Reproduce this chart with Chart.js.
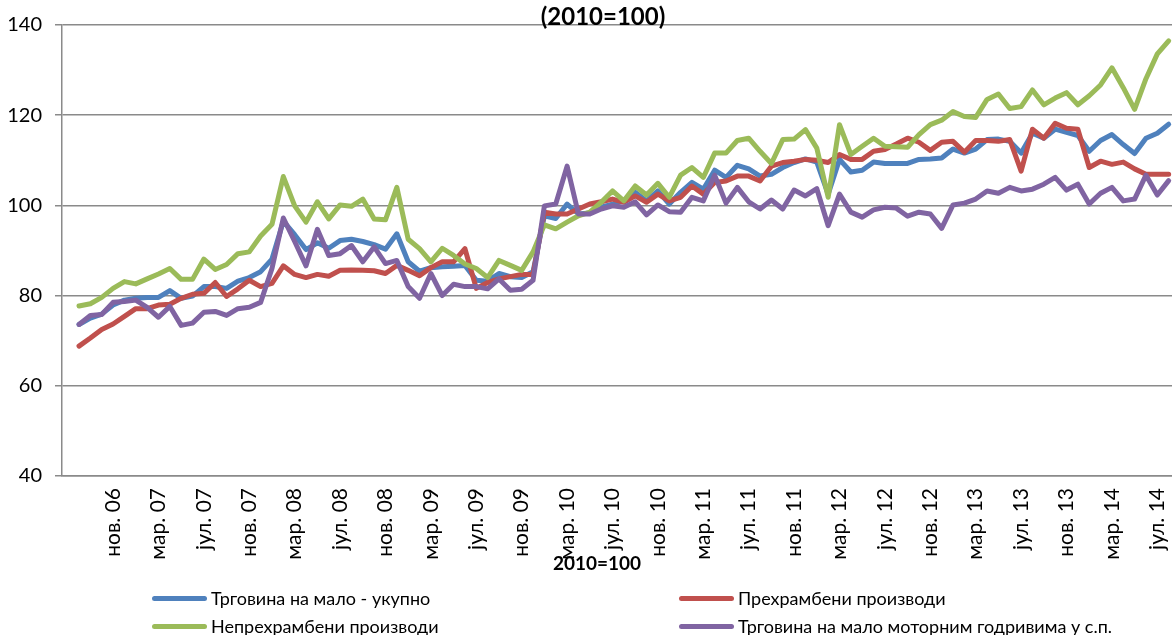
<!DOCTYPE html>
<html>
<head>
<meta charset="utf-8">
<script src="https://cdn.jsdelivr.net/npm/chart.js@4.4.1/dist/chart.umd.min.js"></script>
<style>
  body { margin: 0; overflow: hidden; background: #fff; }
  #wrap { position: relative; width: 1206px; height: 635px; }
  .leg { position: absolute; font-family: Lato, sans-serif; font-size: 18px; color: #000;
         display: flex; align-items: center; white-space: nowrap; height: 20px; }
  .leg i { display: inline-block; width: 55px; height: 5px; border-radius: 3px; margin-right: 4px; }
</style>
</head>
<body>
<div id="wrap">
  <canvas id="chart" width="1206" height="635"></canvas>
  <div class="leg" style="left:152px; top:588px;"><i style="background:#4F81BD"></i>Трговина на мало - укупно</div>
  <div class="leg" style="left:679px; top:588px;"><i style="background:#C0504D"></i>Прехрамбени производи</div>
  <div class="leg" style="left:152px; top:616px;"><i style="background:#9BBB59"></i>Непрехрамбени производи</div>
  <div class="leg" style="left:679px; top:616px;"><i style="background:#8064A2"></i>Трговина на мало моторним годривима у с.п.</div>
</div>
<script>
// месеци, јул 2006 (празан ред) - август 2014
const monthNames = ['јан.', 'феб.', 'мар.', 'апр.', 'мај', 'јун.', 'јул.', 'авг.', 'сеп.', 'окт.', 'нов.', 'дец.'];
const labels = [''];
for (let k = 1; k < 98; k++) {
    const m = (6 + k) % 12;
    const y = 6 + Math.floor((6 + k) / 12);
    labels.push(monthNames[m] + ' ' + String(y).padStart(2, '0'));
}

const seriesNames = [
    'Трговина на мало - укупно',
    'Прехрамбени производи',
    'Непрехрамбени производи',
    'Трговина на мало моторним годривима у с.п.'
];

const ukupno = [null,
    73.6, 75.0, 75.9, 77.9, 79.0, 79.4, 79.6, 79.6, 81.1, 79.4, 79.9, 82.0,
    82.0, 81.6, 83.2, 84.0, 85.3, 88.1, 96.5, 93.5, 90.2, 91.7, 90.5, 92.2,
    92.5, 92.0, 91.3, 90.3, 93.7, 87.5, 85.4, 86.2, 86.4, 86.5, 86.7, 83.4,
    83.2, 84.9, 84.2, 84.0, 85.3, 97.7, 97.1, 100.3, 98.1, 98.3, 99.6, 100.3,
    101.0, 102.9, 101.0, 103.2, 100.3, 102.9, 105.1, 103.6, 107.8, 106.2, 108.9, 108.1,
    106.5, 106.9, 108.4, 109.5, 110.3, 109.6, 102.5, 110.2, 107.4, 107.8, 109.6, 109.3,
    109.3, 109.3, 110.2, 110.3, 110.5, 112.5, 111.6, 112.5, 114.6, 114.7, 114.2, 111.6,
    116.0, 114.9, 116.9, 116.2, 115.5, 112.0, 114.4, 115.7, 113.5, 111.5, 114.9, 116.0,
    118.0];

const prehrambeni = [null,
    68.8, 70.6, 72.5, 73.7, 75.4, 77.1, 77.1, 77.9, 78.1, 79.4, 80.3, 80.5,
    82.9, 79.8, 81.5, 83.4, 82.0, 82.7, 86.6, 84.7, 84.0, 84.7, 84.3, 85.6,
    85.7, 85.6, 85.5, 84.9, 86.7, 85.6, 84.4, 86.2, 87.5, 87.5, 90.4, 81.6,
    82.9, 83.7, 84.2, 84.7, 84.7, 98.5, 98.1, 98.1, 99.2, 100.3, 100.8, 101.4,
    100.7, 102.1, 100.7, 102.5, 101.0, 101.8, 104.3, 102.5, 105.1, 105.4, 106.5, 106.5,
    105.4, 108.7, 109.5, 109.8, 110.2, 110.0, 109.5, 111.3, 110.2, 110.2, 112.0, 112.4,
    113.6, 114.9, 114.0, 112.2, 114.0, 114.2, 111.8, 114.4, 114.4, 114.2, 114.6, 107.6,
    116.9, 114.9, 118.2, 117.1, 116.9, 108.4, 109.8, 109.1, 109.6, 108.1, 106.9, 106.9,
    106.9];

const neprehrambeni = [null,
    77.7, 78.2, 79.6, 81.6, 83.1, 82.6, 83.7, 84.8, 86.0, 83.6, 83.6, 88.1,
    85.8, 86.9, 89.3, 89.7, 93.2, 95.8, 106.4, 99.9, 96.3, 100.8, 97.0, 100.1,
    99.8, 101.4, 97.0, 96.8, 104.0, 92.5, 90.4, 87.5, 90.5, 88.9, 87.0, 86.0,
    84.0, 87.8, 86.7, 85.6, 89.7, 95.7, 94.8, 96.3, 97.7, 98.5, 100.7, 103.2,
    101.0, 104.3, 102.3, 104.9, 101.8, 106.7, 108.4, 106.2, 111.6, 111.6, 114.4, 114.9,
    112.0, 109.3, 114.6, 114.7, 116.8, 112.7, 101.8, 117.9, 111.3, 113.1, 114.9, 113.1,
    113.0, 112.9, 115.7, 117.9, 118.9, 120.8, 119.7, 119.5, 123.5, 124.7, 121.5, 121.9,
    125.6, 122.3, 123.8, 125.0, 122.3, 124.3, 126.7, 130.5, 126.1, 121.3, 128.1, 133.6,
    136.5];

const gorivo = [null,
    73.6, 75.6, 75.8, 78.5, 78.7, 79.0, 77.4, 75.2, 77.6, 73.4, 73.9, 76.3,
    76.5, 75.6, 77.1, 77.4, 78.5, 86.0, 97.2, 92.0, 86.6, 94.7, 88.9, 89.3,
    91.1, 87.5, 90.8, 87.1, 87.8, 82.0, 79.4, 84.9, 80.0, 82.5, 82.0, 82.0,
    81.5, 83.7, 81.2, 81.4, 83.4, 99.9, 100.3, 108.7, 98.1, 98.1, 99.2, 99.9,
    99.6, 100.8, 97.9, 100.1, 98.6, 98.5, 101.8, 101.0, 106.7, 100.5, 104.0, 100.8,
    99.2, 101.2, 99.2, 103.4, 102.1, 103.7, 95.5, 102.5, 98.5, 97.4, 99.0, 99.6,
    99.4, 97.6, 98.5, 98.1, 94.9, 100.1, 100.5, 101.4, 103.2, 102.7, 104.0, 103.2,
    103.6, 104.7, 106.2, 103.4, 104.7, 100.3, 102.7, 104.0, 101.0, 101.4, 106.7, 102.3,
    105.5];

const yTicks = [40, 60, 80, 100, 120, 140];

const colors = ['#4F81BD', '#C0504D', '#9BBB59', '#8064A2'];
const values = [ukupno, prehrambeni, neprehrambeni, gorivo];

const titles = {
    id: 'titles',
    afterDraw(chart) {
        const ctx = chart.ctx;
        ctx.save();
        ctx.fillStyle = '#000';
        ctx.textAlign = 'center';
        ctx.textBaseline = 'middle';
        ctx.font = 'bold 24px Lato';
        ctx.fillText('(2010=100)', 603, 17);
        ctx.font = 'bold 19px Lato';
        ctx.fillText('2010=100', 597, 564);
        ctx.restore();
    }
};

const ctx = document.getElementById('chart').getContext('2d');
new Chart(ctx, {
    type: 'line',
    data: {
        labels: labels,
        datasets: values.map((v, i) => ({
            label: seriesNames[i],
            data: v,
            borderColor: colors[i],
            backgroundColor: colors[i],
            borderWidth: 5,
            pointRadius: 0,
            tension: 0,
            borderJoinStyle: 'round',
            borderCapStyle: 'round',
            order: 3 - i
        }))
    },
    options: {
        responsive: false,
        animation: false,
        layout: { padding: { left: 0, right: 26, top: 21, bottom: 69 } },
        plugins: {
            legend: { display: false },
            tooltip: { enabled: false }
        },
        scales: {
            x: {
                offset: true,
                grid: { display: false, drawTicks: false },
                border: { display: true, color: '#8a8a8a', width: 1.5 },
                ticks: {
                    autoSkip: false,
                    minRotation: 90,
                    maxRotation: 90,
                    padding: 12,
                    color: '#000',
                    font: { family: 'Lato', size: 21 },
                    callback: function (val, idx) {
                        return (idx > 0 && idx % 4 === 0) ? this.getLabelForValue(val) : '';
                    }
                },
                afterFit: (s) => { s.height = 90; }
            },
            y: {
                min: 40,
                max: 140,
                afterBuildTicks: (s) => { s.ticks = yTicks.map(v => ({ value: v })); },
                grid: { color: '#8a8a8a', lineWidth: 1.5, tickLength: 7 },
                border: { display: true, color: '#8a8a8a', width: 1.5 },
                ticks: {
                    padding: 13,
                    color: '#000',
                    font: { family: 'Lato', size: 20 }
                },
                afterFit: (s) => { s.width = 62; }
            }
        }
    },
    plugins: [titles]
});
</script>
</body>
</html>
